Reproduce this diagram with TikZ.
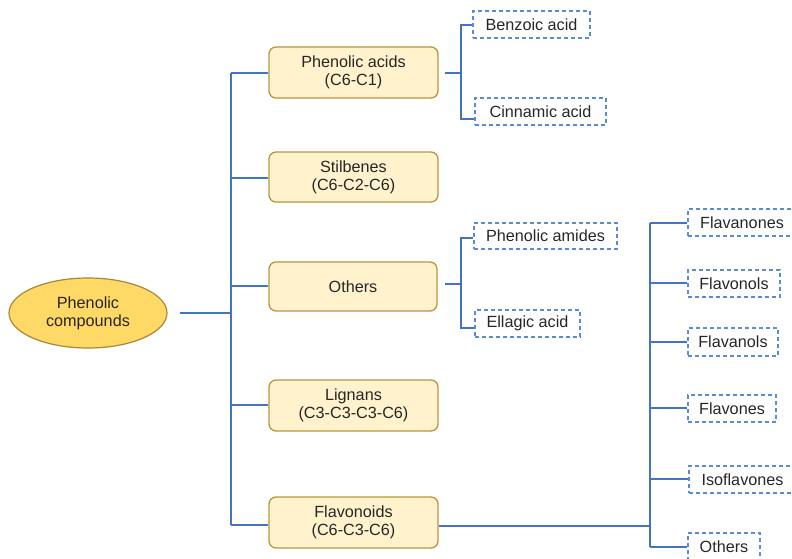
\documentclass[tikz,border=0pt]{standalone}
\usepackage{fontspec}
\setmainfont{Liberation Sans}
\usetikzlibrary{shapes.geometric,calc}
\definecolor{linkblue}{HTML}{4472C4}
\definecolor{dashblue}{HTML}{5B8BD6}
\definecolor{boxfill}{HTML}{FFF2CC}
\definecolor{boxedge}{HTML}{B8963F}
\definecolor{ellfill}{HTML}{FFD966}
\definecolor{elledge}{HTML}{A8883A}
\definecolor{txt}{HTML}{262626}
\tikzset{
  every node/.style={text=txt, font=\fontsize{16.2}{18}\selectfont},
  rootell/.style={ellipse, draw=elledge, fill=ellfill, line width=1.2pt, minimum width=158, minimum height=70, inner sep=0pt, align=center},
  catbox/.style={rectangle, rounded corners=7pt, draw=boxedge, fill=boxfill, line width=1.3pt, minimum width=169, minimum height=50, inner sep=0pt, align=center},
  leafbox/.style={rectangle, draw=dashblue, dash pattern=on 4pt off 3pt, line width=1.2pt, minimum height=27, inner sep=0pt, align=center},
  link/.style={draw=linkblue, line width=1.8pt},
}
\begin{document}
\begin{tikzpicture}[x=1pt,y=-1pt]
\useasboundingbox (0,0) rectangle (792,559);
% root
\node[rootell] (root) at (88,313) {Phenolic\\compounds};
% categories
\node[catbox, minimum height=51] (pa) at (353.5,72.5) {Phenolic acids\\(C6-C1)};
\node[catbox] (st) at (353.5,177) {Stilbenes\\(C6-C2-C6)};
\node[catbox, minimum width=168, minimum height=49] (ot) at (353,286.5) {Others};
\node[catbox, minimum height=51] (lg) at (353.5,405.5) {Lignans\\(C3-C3-C3-C6)};
\node[catbox, minimum height=51] (fl) at (353.5,522.5) {Flavonoids\\(C6-C3-C6)};
% leaves
\node[leafbox, minimum width=117] (ba) at (531.5,24.5) {Benzoic acid};
\node[leafbox, minimum width=131] (ca) at (540.5,111.5) {Cinnamic acid};
\node[leafbox, minimum width=143, minimum height=26] (pm) at (545.5,236) {Phenolic amides};
\node[leafbox, minimum width=105] (ea) at (527.5,323.5) {Ellagic acid};
\node[leafbox, minimum width=108] (f1) at (742,222.5) {Flavanones};
\node[leafbox, minimum width=92] (f2) at (734,283.5) {Flavonols};
\node[leafbox, minimum width=90, minimum height=28] (f3) at (733,342) {Flavanols};
\node[leafbox, minimum width=88] (f4) at (732,408.5) {Flavones};
\node[leafbox, minimum width=107] (f5) at (742.5,479.5) {Isoflavones};
\node[leafbox, minimum width=72, minimum height=28] (f6) at (724,547) {Others};
% junction coordinates
\coordinate (r0) at (180,313);
\coordinate (t0) at (231,313);
\coordinate (ttop) at (231,73);
\coordinate (tbot) at (231,525);
\coordinate (tst) at (231,178);
\coordinate (tot) at (231,286);
\coordinate (tlg) at (231,405);
\coordinate (pa0) at (445,73);
\coordinate (paj) at (461,73);
\coordinate (pat) at (461,25);
\coordinate (pab) at (461,119);
\coordinate (ot0) at (445,284);
\coordinate (otj) at (461,284);
\coordinate (ott) at (461,238);
\coordinate (otb) at (461,328);
\coordinate (flj) at (650,526);
\coordinate (flt) at (650,223);
\coordinate (flb) at (650,547);
\coordinate (fj2) at (650,283);
\coordinate (fj3) at (650,342);
\coordinate (fj4) at (650,408);
\coordinate (fj5) at (650,479);
% trunk
\draw[link] (r0) -- (t0);
\draw[link] (ttop) -- (tbot);
\draw[link] (ttop) -- (ttop -| pa.west);
\draw[link] (tst) -- (tst -| st.west);
\draw[link] (tot) -- (tot -| ot.west);
\draw[link] (tlg) -- (tlg -| lg.west);
\draw[link] (tbot) -- (tbot -| fl.west);
% phenolic acids bracket
\draw[link] (pa0) -- (paj);
\draw[link] (pat -| ba.west) -- (pat) -- (pab) -- (pab -| ca.west);
% others bracket
\draw[link] (ot0) -- (otj);
\draw[link] (ott -| pm.west) -- (ott) -- (otb) -- (otb -| ea.west);
% flavonoids
\draw[link] (flj -| fl.east) -- (flj);
\draw[link] (flt) -- (flb);
\draw[link] (flt) -- (flt -| f1.west);
\draw[link] (fj2) -- (fj2 -| f2.west);
\draw[link] (fj3) -- (fj3 -| f3.west);
\draw[link] (fj4) -- (fj4 -| f4.west);
\draw[link] (fj5) -- (fj5 -| f5.west);
\draw[link] (flb) -- (flb -| f6.west);
\end{tikzpicture}
\end{document}
